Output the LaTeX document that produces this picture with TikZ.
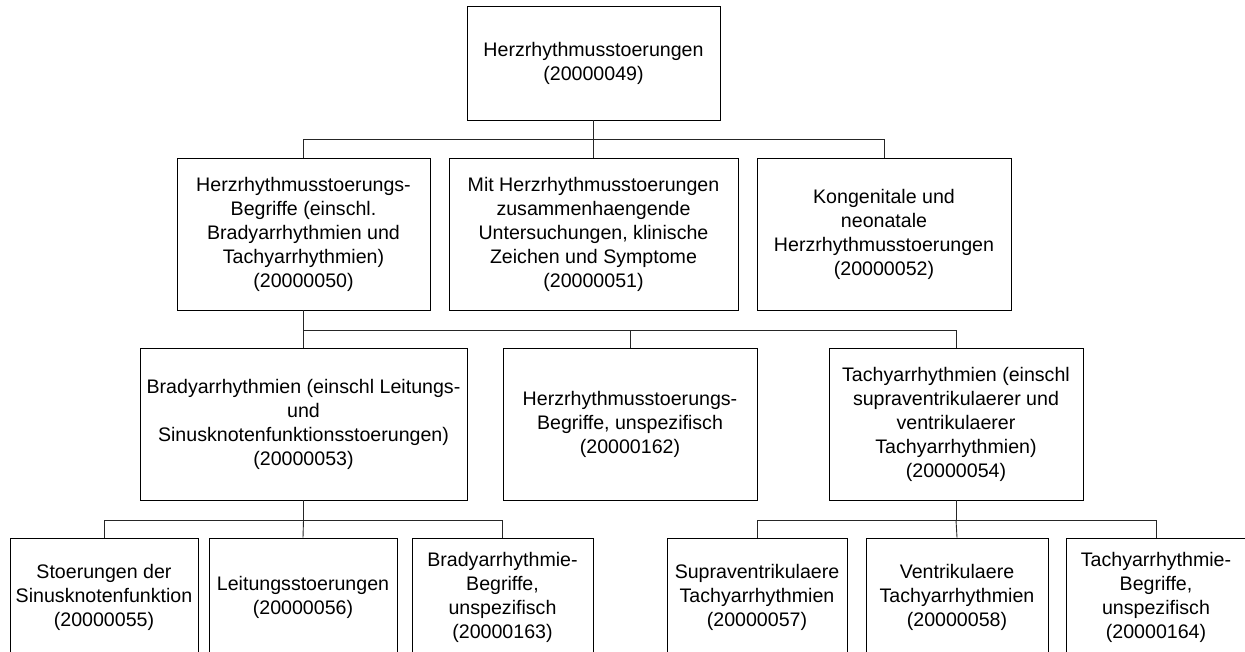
\documentclass[tikz,border=0pt]{standalone}
\usepackage{fontspec}
\setmainfont{Liberation Sans}
\usepackage{tikz}
\usetikzlibrary{positioning,calc}
\newcommand{\boxfont}{\fontsize{19.6}{24}\selectfont}

\begin{document}
\begin{tikzpicture}[
  x=1pt,y=-1pt,
  box/.style={draw=black,line width=0.9pt,align=center,inner sep=0pt,font=\boxfont},
  link/.style={draw=black!85,line width=0.9pt}
]
\useasboundingbox (0,0) rectangle (1245,651);
\clip (0,0) rectangle (1245,651);
% root
\node[box,minimum width=253pt,minimum height=114pt] (root) at (593.5,63)
  {Herzrhythmusstoerungen\\(20000049)};
% second row
\node[box,minimum width=253pt,minimum height=152pt] (begr) at (303.5,234)
  {Herzrhythmusstoerungs-\\Begriffe (einschl.\\Bradyarrhythmien und\\Tachyarrhythmien)\\(20000050)};
\node[box,minimum width=289pt,minimum height=152pt] (unters) at (593.5,234)
  {Mit Herzrhythmusstoerungen\\zusammenhaengende\\Untersuchungen, klinische\\Zeichen und Symptome\\(20000051)};
\node[box,minimum width=254pt,minimum height=152pt] (kong) at (884,234)
  {Kongenitale und\\neonatale\\Herzrhythmusstoerungen\\(20000052)};
% third row
\node[box,minimum width=327pt,minimum height=152pt] (brady) at (303.5,424)
  {Bradyarrhythmien (einschl Leitungs-\\und\\Sinusknotenfunktionsstoerungen)\\(20000053)};
\node[box,minimum width=254pt,minimum height=152pt] (unspez) at (630,424)
  {Herzrhythmusstoerungs-\\Begriffe, unspezifisch\\(20000162)};
\node[box,minimum width=254pt,minimum height=152pt] (tachy) at (956,424)
  {Tachyarrhythmien (einschl\\supraventrikulaerer und\\ventrikulaerer\\Tachyarrhythmien)\\(20000054)};
% fourth row
\node[box,minimum width=188pt,minimum height=118pt] (sinus) at (104,597)
  {Stoerungen der\\Sinusknotenfunktion\\(20000055)};
\node[box,minimum width=188pt,minimum height=118pt] (leit) at (303,597)
  {Leitungsstoerungen\\(20000056)};
\node[box,minimum width=181pt,minimum height=118pt] (bradyu) at (502.5,597)
  {Bradyarrhythmie-\\Begriffe,\\unspezifisch\\(20000163)};
\node[box,minimum width=180pt,minimum height=118pt] (supra) at (757,597)
  {Supraventrikulaere\\Tachyarrhythmien\\(20000057)};
\node[box,minimum width=182pt,minimum height=118pt] (ventr) at (957,597)
  {Ventrikulaere\\Tachyarrhythmien\\(20000058)};
\node[box,minimum width=180pt,minimum height=118pt] (tachyu) at (1156,597)
  {Tachyarrhythmie-\\Begriffe,\\unspezifisch\\(20000164)};
% connectors
\draw[link] (root.south) -- ++(0,19) coordinate (bus1);
\draw[link] (bus1) -| (begr.north);
\draw[link] (bus1) -- (unters.north);
\draw[link] (bus1) -| (kong.north);
\draw[link] (begr.south) -- ++(0,20) coordinate (bus2);
\draw[link] (bus2) -- (brady.north);
\draw[link] (bus2) -| (unspez.north);
\draw[link] (bus2) -| (tachy.north);
\draw[link] (brady.south) -- ++(0,19.5) coordinate (bus3);
\draw[link] (bus3) -| (sinus.north);
\draw[link] (bus3) -- (leit.north);
\draw[link] (bus3) -| (bradyu.north);
\draw[link] (tachy.south) -- ++(0,19.5) coordinate (bus4);
\draw[link] (bus4) -| (supra.north);
\draw[link] (bus4) -- (ventr.north);
\draw[link] (bus4) -| (tachyu.north);
\end{tikzpicture}
\end{document}
